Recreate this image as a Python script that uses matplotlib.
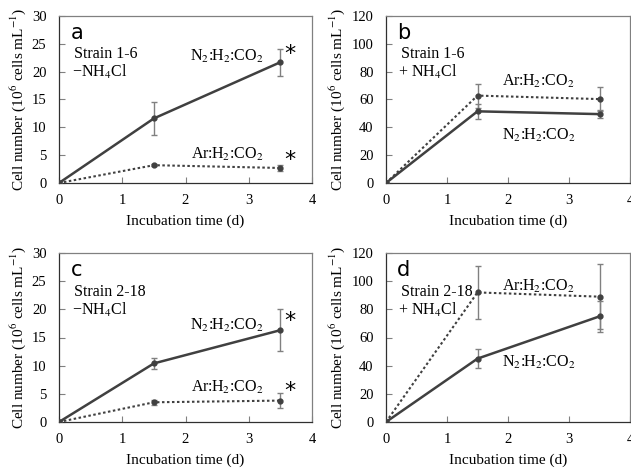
import matplotlib
matplotlib.use("Agg")
import matplotlib.pyplot as plt

plt.rcParams['font.family'] = ['Liberation Serif', 'DejaVu Serif']
plt.rcParams['mathtext.fontset'] = 'stix'

days = [0, 1.5, 3.5]

# panel a: strain 1-6, -NH4Cl
a_n2 = [0, 11.6, 21.7]
a_n2_err = [0, 3.0, 2.4]
a_ar = [0, 3.2, 2.7]
a_ar_err = [0, 0.2, 0.5]

# panel b: strain 1-6, +NH4Cl
b_n2 = [0, 51.5, 49.5]
b_n2_err = [0, 5.5, 3.0]
b_ar = [0, 62.8, 60.3]
b_ar_err = [0, 8.6, 8.5]

# panel c: strain 2-18, -NH4Cl
c_n2 = [0, 10.4, 16.3]
c_n2_err = [0, 1.0, 3.7]
c_ar = [0, 3.5, 3.8]
c_ar_err = [0, 0.4, 1.3]

# panel d: strain 2-18, +NH4Cl
d_n2 = [0, 45.0, 75.0]
d_n2_err = [0, 7.0, 11.0]
d_ar = [0, 92.0, 89.0]
d_ar_err = [0, 19.0, 23.0]

N2 = "N$_2$:H$_2$:CO$_2$"
AR = "Ar:H$_2$:CO$_2$"
LINE = '#404040'
ERR = '#808080'
FS = 11.5

W, H = 631, 468
fig = plt.figure(figsize=(W / 100, H / 100), dpi=100)


def make_ax(left, top, right, bottom):
    return fig.add_axes([left / W, 1 - bottom / H, (right - left) / W, (bottom - top) / H])


def draw(ax, n2, n2e, ar, are, ymax, ystep, letter, strain, nh4):
    ax.errorbar(days, n2, yerr=n2e, color=LINE, ecolor=ERR, elinewidth=1, capsize=2.5,
                lw=1.8, marker='o', ms=3.5, zorder=3)
    ax.errorbar(days, ar, yerr=are, color=LINE, ecolor=ERR, elinewidth=1, capsize=2.5,
                lw=1.5, ls=(0, (1.2, 1.2)), marker='o', ms=3.5, zorder=3)
    ax.set_xlim(0, 4)
    ax.set_ylim(0, ymax)
    ax.set_xticks(range(5))
    ax.set_yticks(range(0, ymax + 1, ystep))
    ax.tick_params(direction='in', length=4, labelsize=10.5, color='#808080')
    ax.tick_params(axis='x', pad=8)
    ax.tick_params(axis='y', pad=9)
    for s in ax.spines.values():
        s.set_color('#808080')
        s.set_linewidth(0.9)
    ax.spines['left'].set_color('#303030')
    ax.spines['bottom'].set_color('#303030')
    ax.set_xlabel("Incubation time (d)", fontsize=11, labelpad=5)
    ax.set_ylabel("Cell number (10$^6$ cells mL$^{-1}$)", fontsize=11, labelpad=3)
    ax.text(0.045, 0.90, letter, transform=ax.transAxes, fontsize=15,
            family='DejaVu Sans', va='center')
    ax.text(0.06, 0.77, strain, transform=ax.transAxes, fontsize=FS, va='center')
    ax.text(0.05, 0.665, nh4, transform=ax.transAxes, fontsize=FS, va='center')
    return ax


ax = draw(make_ax(59, 16, 312, 183), a_n2, a_n2_err, a_ar, a_ar_err, 30, 5,
          'a', 'Strain 1-6', '\u2212NH$_4$Cl')
ax.text(3.23, 21.2, N2, fontsize=FS, ha='right', va='bottom')
ax.text(3.23, 3.6, AR, fontsize=FS, ha='right', va='bottom')
ax.text(3.56, 23.2, '*', fontsize=16, family='DejaVu Sans', va='center')
ax.text(3.56, 4.1, '*', fontsize=16, family='DejaVu Sans', va='center')

ax = draw(make_ax(386, 16, 630, 183), b_n2, b_n2_err, b_ar, b_ar_err, 120, 20,
          'b', 'Strain 1-6', '+ NH$_4$Cl')
ax.text(2.5, 73, AR, fontsize=FS, ha='center', va='center')
ax.text(2.5, 34.5, N2, fontsize=FS, ha='center', va='center')

ax = draw(make_ax(59, 253, 312, 422), c_n2, c_n2_err, c_ar, c_ar_err, 30, 5,
          'c', 'Strain 2-18', '\u2212NH$_4$Cl')
ax.text(3.23, 15.6, N2, fontsize=FS, ha='right', va='bottom')
ax.text(3.23, 4.6, AR, fontsize=FS, ha='right', va='bottom')
ax.text(3.56, 17.9, '*', fontsize=16, family='DejaVu Sans', va='center')
ax.text(3.56, 5.5, '*', fontsize=16, family='DejaVu Sans', va='center')

ax = draw(make_ax(386, 253, 630, 422), d_n2, d_n2_err, d_ar, d_ar_err, 120, 20,
          'd', 'Strain 2-18', '+ NH$_4$Cl')
ax.text(2.5, 96, AR, fontsize=FS, ha='center', va='center')
ax.text(2.5, 42.6, N2, fontsize=FS, ha='center', va='center')

fig.savefig("out.png", dpi=100)
